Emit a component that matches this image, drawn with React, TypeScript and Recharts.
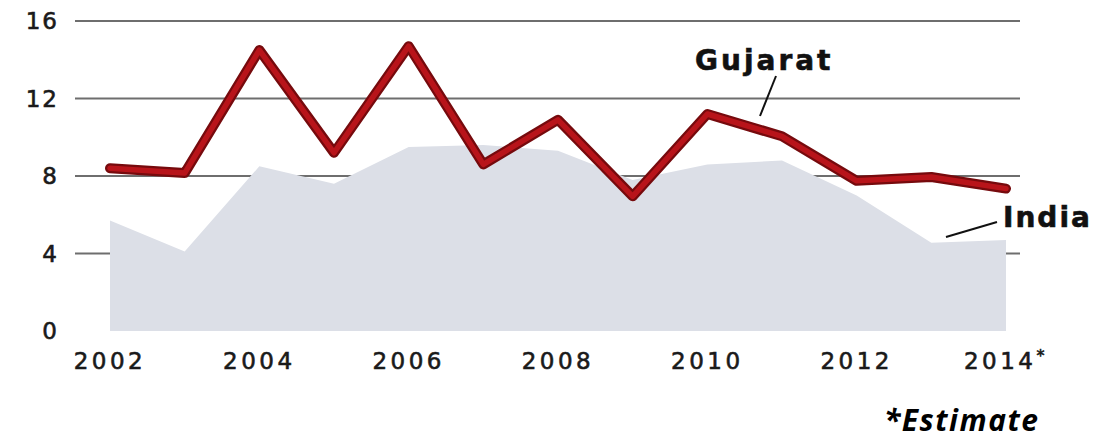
import { Area, CartesianGrid, ComposedChart, Line, XAxis, YAxis } from "recharts"

const years = [2002, 2003, 2004, 2005, 2006, 2007, 2008, 2009, 2010, 2011, 2012, 2013, 2014]
const gujarat = [8.4, 8.15, 14.5, 9.2, 14.7, 8.6, 10.9, 6.95, 11.2, 10.05, 7.75, 7.95, 7.35]
const india = [5.7, 4.1, 8.5, 7.6, 9.5, 9.6, 9.3, 7.8, 8.6, 8.8, 7.0, 4.55, 4.7]
const xTicks = [2002, 2004, 2006, 2008, 2010, 2012, 2014]
const yTicks = [0, 4, 8, 12, 16]
const gridValues = [4, 8, 12, 16]

const data = years.map((year, i) => ({ year, gujarat: gujarat[i], india: india[i] }))

// slightly heavier than regular, the original uses a medium geometric face
const tickFont = {
  fill: "#1a1a1a",
  stroke: "#1a1a1a",
  strokeWidth: 0.6,
  fontSize: 23,
  fontFamily: "DejaVu Sans",
  letterSpacing: 3.5,
}

function XTick({ x, y, payload }: any) {
  return (
    <text x={x} y={y} dy={17} textAnchor="middle" {...tickFont}>
      {String(payload.value)}
      {payload.value === 2014 && <tspan fontSize={16} dy={-8}>*</tspan>}
    </text>
  )
}

export default function App() {
  return (
    <div style={{ position: "relative", width: 1111, height: 439, background: "#fff" }}>
      <style>{"body{margin:0}"}</style>
      <ComposedChart
        width={1111}
        height={439}
        data={data}
        margin={{ top: 21, right: 91, left: 0, bottom: 78 }}
      >
        <XAxis
          dataKey="year"
          type="number"
          domain={[2002, 2014]}
          ticks={xTicks}
          padding={{ left: 35, right: 14 }}
          axisLine={false}
          tickLine={false}
          tickMargin={15}
          tick={<XTick />}
          interval={0}
          height={30}
        />
        <YAxis
          domain={[0, 16]}
          ticks={yTicks}
          width={75}
          axisLine={false}
          tickLine={false}
          tickMargin={10}
          tick={{ ...tickFont, letterSpacing: 2 }}
        />
        <Area
          dataKey="india"
          type="linear"
          stroke="none"
          fill="#dcdfe7"
          fillOpacity={1}
          isAnimationActive={false}
        />
        <CartesianGrid
          vertical={false}
          horizontalValues={gridValues}
          stroke="#6e6e6e"
          strokeWidth={2}
        />
        <Line
          dataKey="gujarat"
          type="linear"
          stroke="#760a0d"
          strokeWidth={10}
          strokeLinejoin="round"
          strokeLinecap="round"
          dot={false}
          isAnimationActive={false}
        />
        <Line
          dataKey="gujarat"
          type="linear"
          stroke="#b8141a"
          strokeWidth={5.5}
          strokeLinejoin="round"
          strokeLinecap="round"
          dot={false}
          isAnimationActive={false}
        />
      </ComposedChart>
      <svg
        width={1111}
        height={439}
        style={{ position: "absolute", left: 0, top: 0, pointerEvents: "none" }}
      >
        <text x={695} y={70} fontFamily="DejaVu Sans" fontWeight="bold" fontSize={28} letterSpacing={3} fill="#111" stroke="#111" strokeWidth={0.6}>
          Gujarat
        </text>
        <line x1={776} y1={76} x2={760} y2={116} stroke="#111" strokeWidth={2} />
        <text x={1003} y={227} fontFamily="DejaVu Sans" fontWeight="bold" fontSize={28} letterSpacing={2} fill="#111" stroke="#111" strokeWidth={0.6}>
          India
        </text>
        <line x1={946} y1={237} x2={997} y2={222} stroke="#111" strokeWidth={2} />
        <text x={884} y={431} fontFamily="Open Sans" fontWeight="bold" fontStyle="italic" fontSize={30} letterSpacing={1.5} fill="#000">
          *Estimate
        </text>
      </svg>
    </div>
  )
}
